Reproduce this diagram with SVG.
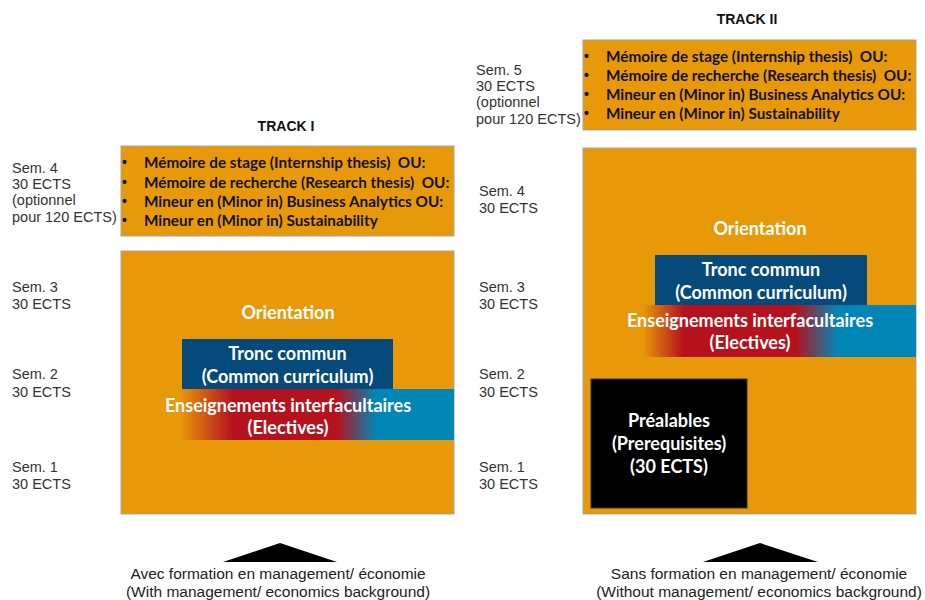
<svg xmlns="http://www.w3.org/2000/svg" width="925" height="600" viewBox="0 0 925 600">
<defs>
<style>
.lbl{font-family:"Liberation Sans",Arial,sans-serif;font-size:14.5px;fill:#333}
.trk{font-family:"Liberation Sans",Arial,sans-serif;font-size:14px;font-weight:bold;fill:#111}
.bot{font-family:"Liberation Sans",Arial,sans-serif;font-size:15.5px;fill:#222;text-anchor:middle}
.box{fill:#E8990A;stroke:#A6A6A6;stroke-width:1}
.bt{font-family:Lato,"Open Sans",sans-serif;font-size:15.3px;font-weight:bold;fill:#111;white-space:pre}
.bu{font-family:"Liberation Sans",Arial,sans-serif;font-size:14px;font-weight:bold;fill:#111}
.wt{font-family:Lato,"Open Sans",sans-serif;font-weight:bold;fill:#fff;text-anchor:middle;font-size:18px}
.tronc{fill:#064A7C}
.tri{fill:#000}
</style>
<linearGradient id="g1" gradientUnits="userSpaceOnUse" x1="165" y1="0" x2="454" y2="0">
<stop offset="0" stop-color="#E8990A"/>
<stop offset="0.05" stop-color="#E8990A"/>
<stop offset="0.235" stop-color="#B5121E"/>
<stop offset="0.595" stop-color="#B5121E"/>
<stop offset="0.73" stop-color="#0286B6"/>
<stop offset="1" stop-color="#0286B6"/>
</linearGradient>
<linearGradient id="g2" gradientUnits="userSpaceOnUse" x1="615" y1="0" x2="916" y2="0">
<stop offset="0" stop-color="#E8990A"/>
<stop offset="0.09" stop-color="#E8990A"/>
<stop offset="0.23" stop-color="#B5121E"/>
<stop offset="0.6" stop-color="#B5121E"/>
<stop offset="0.74" stop-color="#0286B6"/>
<stop offset="1" stop-color="#0286B6"/>
</linearGradient>
</defs>
<rect width="925" height="600" fill="#fff"/>

<g id="track1">
<text class="trk" x="286" y="131" text-anchor="middle">TRACK I</text>
<g id="t1-sem-labels">
<text class="lbl" x="12" y="173">Sem. 4</text>
<text class="lbl" x="12" y="189">30 ECTS</text>
<text class="lbl" x="12" y="205">(optionnel</text>
<text class="lbl" x="12" y="222">pour 120 ECTS)</text>
<text class="lbl" x="12" y="292">Sem. 3</text>
<text class="lbl" x="12" y="309">30 ECTS</text>
<text class="lbl" x="12" y="379">Sem. 2</text>
<text class="lbl" x="12" y="397">30 ECTS</text>
<text class="lbl" x="12" y="472">Sem. 1</text>
<text class="lbl" x="12" y="489">30 ECTS</text>
</g>
<g id="t1-options">
<rect class="box" x="121" y="146" width="333" height="90"/>
<text class="bu" x="122" y="167">•</text>
<text class="bu" x="122" y="186.5">•</text>
<text class="bu" x="122" y="206">•</text>
<text class="bu" x="122" y="225">•</text>
<text class="bt" x="144" y="168" xml:space="preserve">Mémoire de stage (Internship thesis)  OU:</text>
<text class="bt" x="144" y="187.5" xml:space="preserve">Mémoire de recherche (Research thesis)  OU:</text>
<text class="bt" x="144" y="207">Mineur en (Minor in) Business Analytics OU:</text>
<text class="bt" x="144" y="226">Mineur en (Minor in) Sustainability</text>
</g>
<g id="t1-main">
<rect class="box" x="121" y="251" width="333" height="263"/>
<text class="wt" x="288" y="319">Orientation</text>
</g>
<g id="t1-tronc">
<rect class="tronc" x="182" y="339" width="211" height="50"/>
<text class="wt" x="287.5" y="360">Tronc commun</text>
<text class="wt" x="287.5" y="383">(Common curriculum)</text>
</g>
<g id="t1-electives">
<rect x="165" y="389" width="289" height="51" fill="url(#g1)"/>
<text class="wt" x="288" y="412">Enseignements interfacultaires</text>
<text class="wt" x="288" y="434">(Electives)</text>
</g>
<g id="t1-entry">
<polygon class="tri" points="280,543 337,562 223,562"/>
<text class="bot" x="278" y="579">Avec formation en management/ économie</text>
<text class="bot" x="278" y="597">(With management/ economics background)</text>
</g>
</g>

<g id="track2">
<text class="trk" x="747" y="24" text-anchor="middle">TRACK II</text>
<g id="t2-sem-labels">
<text class="lbl" x="476" y="75">Sem. 5</text>
<text class="lbl" x="476" y="91">30 ECTS</text>
<text class="lbl" x="476" y="107">(optionnel</text>
<text class="lbl" x="476" y="124">pour 120 ECTS)</text>
<text class="lbl" x="479" y="196">Sem. 4</text>
<text class="lbl" x="479" y="213">30 ECTS</text>
<text class="lbl" x="479" y="292">Sem. 3</text>
<text class="lbl" x="479" y="309">30 ECTS</text>
<text class="lbl" x="479" y="379">Sem. 2</text>
<text class="lbl" x="479" y="397">30 ECTS</text>
<text class="lbl" x="479" y="472">Sem. 1</text>
<text class="lbl" x="479" y="489">30 ECTS</text>
</g>
<g id="t2-options">
<rect class="box" x="583" y="40" width="333" height="90"/>
<text class="bu" x="584" y="61">•</text>
<text class="bu" x="584" y="80">•</text>
<text class="bu" x="584" y="99">•</text>
<text class="bu" x="584" y="118">•</text>
<text class="bt" x="606" y="62" xml:space="preserve">Mémoire de stage (Internship thesis)  OU:</text>
<text class="bt" x="606" y="81" xml:space="preserve">Mémoire de recherche (Research thesis)  OU:</text>
<text class="bt" x="606" y="100">Mineur en (Minor in) Business Analytics OU:</text>
<text class="bt" x="606" y="119">Mineur en (Minor in) Sustainability</text>
</g>
<g id="t2-main">
<rect class="box" x="583" y="148" width="333" height="366"/>
<text class="wt" x="760" y="235">Orientation</text>
</g>
<g id="t2-tronc">
<rect class="tronc" x="655" y="255" width="212" height="50"/>
<text class="wt" x="761" y="276">Tronc commun</text>
<text class="wt" x="761" y="299">(Common curriculum)</text>
</g>
<g id="t2-electives">
<rect x="615" y="305" width="301" height="52" fill="url(#g2)"/>
<text class="wt" x="750" y="327">Enseignements interfacultaires</text>
<text class="wt" x="750" y="349">(Electives)</text>
</g>
<g id="t2-prereq">
<rect x="591" y="379" width="156" height="129" fill="#000" stroke="#333" stroke-width="1"/>
<text class="wt" x="669" y="427" font-size="18.5">Préalables</text>
<text class="wt" x="669" y="450" font-size="18.5">(Prerequisites)</text>
<text class="wt" x="669" y="473" font-size="18.5">(30 ECTS)</text>
</g>
<g id="t2-entry">
<polygon class="tri" points="760,543 818,562 703,562"/>
<text class="bot" x="759" y="579">Sans formation en management/ économie</text>
<text class="bot" x="759" y="597">(Without management/ economics background)</text>
</g>
</g>
<g id="connectors"></g>
</svg>
